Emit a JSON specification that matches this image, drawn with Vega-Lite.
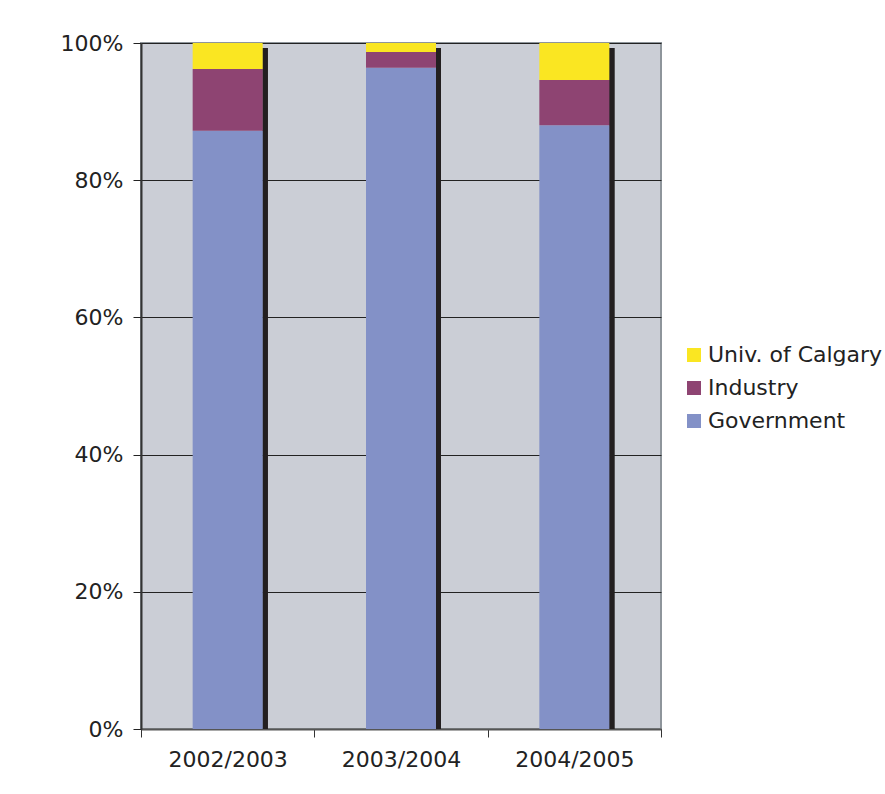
{
  "$schema": "https://vega.github.io/schema/vega-lite/v6.json",
  "autosize": "none",
  "width": 520,
  "height": 686,
  "padding": {"left": 141, "top": 43, "right": 224, "bottom": 65},
  "background": "white",
  "config": {
    "font": "DejaVu Sans",
    "view": {"fill": "#CBCED6", "stroke": "#8E959B", "strokeWidth": 2}
  },
  "data": {
    "values": [
      {"year": "2002/2003", "source": "Government", "share": 0.872},
      {"year": "2002/2003", "source": "Industry", "share": 0.090},
      {"year": "2002/2003", "source": "Univ. of Calgary", "share": 0.038},
      {"year": "2003/2004", "source": "Government", "share": 0.964},
      {"year": "2003/2004", "source": "Industry", "share": 0.023},
      {"year": "2003/2004", "source": "Univ. of Calgary", "share": 0.013},
      {"year": "2004/2005", "source": "Government", "share": 0.880},
      {"year": "2004/2005", "source": "Industry", "share": 0.066},
      {"year": "2004/2005", "source": "Univ. of Calgary", "share": 0.054}
    ]
  },
  "encoding": {
    "x": {
      "field": "year",
      "type": "nominal",
      "scale": {"paddingInner": 0, "paddingOuter": 0},
      "axis": {
        "title": null,
        "labelAngle": 0,
        "labelFontSize": 22,
        "labelColor": "#222222",
        "labelPadding": 12,
        "tickBand": "extent",
        "tickSize": 8,
        "tickColor": "#333333",
        "domainColor": "#555555",
        "domainWidth": 2,
        "grid": false
      }
    }
  },
  "layer": [
    {
      "mark": {"type": "bar", "size": 5, "xOffset": 37.5, "color": "#231F20"},
      "encoding": {
        "y": {"datum": 0.9927, "type": "quantitative", "scale": {"domain": [0, 1]}},
        "y2": {"datum": 0}
      }
    },
    {
      "mark": {"type": "bar", "size": 70},
      "encoding": {
        "y": {
          "field": "share",
          "type": "quantitative",
          "stack": "normalize",
          "scale": {"domain": [0, 1]},
          "axis": {
            "title": null,
            "format": "%",
            "values": [0, 0.2, 0.4, 0.6, 0.8, 1],
            "labelFontSize": 22,
            "labelColor": "#222222",
            "labelPadding": 10,
            "tickSize": 8,
            "tickColor": "#222222",
            "domainColor": "#333333",
            "domainWidth": 2,
            "grid": true,
            "gridColor": "#222222",
            "gridWidth": 1,
            "gridOpacity": 1
          }
        },
        "color": {
          "field": "source",
          "type": "nominal",
          "scale": {
            "domain": ["Univ. of Calgary", "Industry", "Government"],
            "range": ["#FAE622", "#8E4472", "#8391C7"]
          },
          "legend": {
            "title": null,
            "orient": "none",
            "legendX": 542,
            "legendY": 301,
            "symbolType": "square",
            "symbolSize": 196,
            "symbolStrokeWidth": 0,
            "labelFontSize": 22,
            "labelLimit": 400,
            "labelColor": "#222222",
            "labelOffset": 3,
            "rowPadding": 11
          }
        },
        "order": {"field": "source", "sort": "ascending"}
      }
    }
  ]
}
